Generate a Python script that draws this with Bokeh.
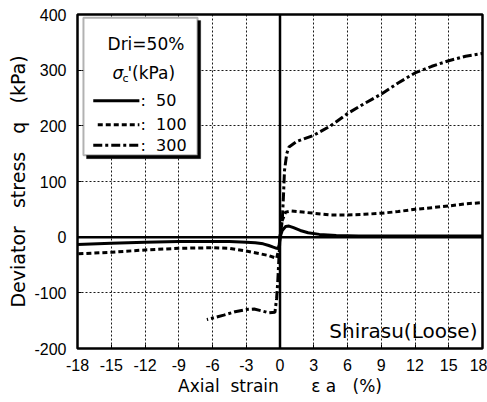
from bokeh.plotting import figure
from bokeh.models import Range1d, FixedTicker, Span, Label, BoxAnnotation, Arrow
from bokeh.embed import file_html
from bokeh.resources import INLINE

x_ticks = [-18, -15, -12, -9, -6, -3, 0, 3, 6, 9, 12, 15, 18]
y_ticks = [-200, -100, 0, 100, 200, 300, 400]

# sigma_c' = 50 kPa (solid)
s50_pos_x = [0, 0.2, 0.5, 0.8, 1.2, 1.8, 2.5, 3.5, 5, 7, 10, 14, 18]
s50_pos_q = [0, 12, 19, 20, 17, 12, 8, 5, 3, 2, 2, 2, 2]
s50_neg_x = [0, -0.1, -0.3, -0.6, -1.0, -1.5, -2.2, -3, -4.5, -6, -9, -12, -15, -18]
s50_neg_q = [0, -19, -20, -18, -15, -12, -10, -9, -8, -8, -8, -9, -11, -13]

# sigma_c' = 100 kPa (dashed)
s100_pos_x = [0, 0.2, 0.5, 1, 2, 3, 4.5, 6, 7.5, 9, 10.5, 12, 13.5, 15, 16.5, 18]
s100_pos_q = [0, 30, 45, 47, 45, 43, 40, 40, 41, 43, 46, 50, 53, 56, 60, 62]
s100_neg_x = [0, -0.1, -0.3, -1, -2, -3, -4.5, -6, -9, -12, -15, -18]
s100_neg_q = [0, -20, -38, -33, -29, -25, -20, -19, -20, -23, -27, -30]

# sigma_c' = 300 kPa (dash-dot)
s300_pos_x = [0, 0.2, 0.3, 0.4, 0.6, 0.8, 1.5, 3, 4.5, 6, 7.5, 9, 10.5, 12, 13.5, 15, 16.5, 18]
s300_pos_q = [0, 30, 70, 120, 150, 162, 172, 183, 200, 222, 240, 257, 277, 295, 307, 317, 325, 330]
s300_neg_x = [0, -0.1, -0.2, -0.3, -0.45, -1, -1.5, -2.3, -3, -4, -5, -6.5]
s300_neg_q = [0, -40, -80, -110, -135, -136, -133, -129, -130, -134, -140, -148]

TICKF = "Liberation Sans"
FONT = "DejaVu Sans"
NB = "\u00a0"

p = figure(width=487, height=402, output_backend="svg", toolbar_location=None,
           x_range=Range1d(-18, 18), y_range=Range1d(-200, 400),
           min_border_left=77, min_border_right=5, min_border_top=14, min_border_bottom=54)
p.outline_line_color = "black"
p.outline_line_width = 2.5
p.background_fill_color = "white"
p.border_fill_color = "white"

for ax in (p.xaxis[0], p.yaxis[0]):
    ax.axis_line_color = None
    ax.major_tick_in = 4
    ax.major_tick_out = 0
    ax.minor_tick_line_color = None
    ax.major_label_text_font = TICKF
    ax.major_label_text_font_size = "16px"
    ax.major_label_text_color = "black"
    ax.axis_label_text_font = FONT
    ax.axis_label_text_font_style = "normal"
    ax.axis_label_text_color = "black"

p.xaxis.ticker = FixedTicker(ticks=x_ticks)
p.yaxis.ticker = FixedTicker(ticks=y_ticks)
p.xaxis.major_label_overrides = {t: str(t) for t in x_ticks}
p.yaxis.major_label_overrides = {t: str(t) for t in y_ticks}
p.xaxis.major_label_standoff = 10
p.yaxis.major_label_standoff = 11
p.xaxis.axis_label = "Axial" + NB * 2 + "strain" + NB * 6 + "\u03b5" + NB + "a" + NB * 3 + "(%)"
p.yaxis.axis_label = "Deviator" + NB * 3 + "stress" + NB * 3 + "q" + NB * 3 + "(kPa)"
p.xaxis.axis_label_text_font_size = "17px"
p.yaxis.axis_label_text_font_size = "19px"
p.xaxis.axis_label_standoff = 2
p.yaxis.axis_label_standoff = 2

for g in (p.xgrid[0], p.ygrid[0]):
    g.grid_line_color = "black"
    g.grid_line_dash = "2 2"
    g.grid_line_width = 1
    g.grid_line_alpha = 0.9
p.xgrid.ticker = FixedTicker(ticks=x_ticks)
p.ygrid.ticker = FixedTicker(ticks=y_ticks)

p.add_layout(Span(location=0, dimension="height", line_color="black", line_width=2.5))
p.add_layout(Span(location=0, dimension="width", line_color="black", line_width=2.5))

lw = 3
p.line(s50_pos_x, s50_pos_q, line_color="black", line_width=lw)
p.line(s50_neg_x, s50_neg_q, line_color="black", line_width=lw)
p.line(s100_pos_x, s100_pos_q, line_color="black", line_width=lw, line_dash="5 3")
p.line(s100_neg_x, s100_neg_q, line_color="black", line_width=lw, line_dash="5 3")
p.line(s300_pos_x, s300_pos_q, line_color="black", line_width=lw, line_dash="9 3 3 3")
p.line(s300_neg_x, s300_neg_q, line_color="black", line_width=lw, line_dash="9 3 3 3")

# legend box with shadow
p.add_layout(BoxAnnotation(left=-17.2, right=-7.05, top=389, bottom=141,
                           fill_color="black", fill_alpha=1, line_color="black"))
p.add_layout(BoxAnnotation(left=-17.47, right=-7.33, top=394, bottom=147,
                           fill_color="white", fill_alpha=1, line_color="black", line_width=2))

def lab(x, y, t, size="16px", align="left", style="normal", font=FONT):
    p.add_layout(Label(x=x, y=y, text=t, text_font=font, text_font_size=size,
                       text_align=align, text_baseline="middle", text_color="black",
                       text_font_style=style))

lab(-8.5, 347, "Dri=50%", size="17px", align="right")
lab(-14.89, 294.6, "\u03c3", size="17px", style="italic")
lab(-14.0, 285.6, "c", size="11px")
lab(-13.56, 294.6, "'(kPa)", size="17px")

p.add_layout(Arrow(x_start=-16.6, y_start=245, x_end=-12.5, y_end=245, end=None,
                   line_color="black", line_width=3))
p.add_layout(Arrow(x_start=-16.2, y_start=202, x_end=-12.5, y_end=202, end=None,
                   line_color="black", line_width=3, line_dash="5 3"))
p.add_layout(Arrow(x_start=-16.6, y_start=165, x_end=-12.5, y_end=165, end=None,
                   line_color="black", line_width=3, line_dash="9 3 3 3"))
lab(-12.4, 245, ":" + NB + NB + "50")
lab(-12.4, 202, ":" + NB + NB + "100")
lab(-12.4, 165, ":" + NB + NB + "300")

p.add_layout(Label(x=17.55, y=-169, text="Shirasu(Loose)", text_font=FONT,
                   text_font_size="20px", text_align="right", text_baseline="middle",
                   text_color="black"))

open("out.html", "w").write(file_html(p, INLINE))
